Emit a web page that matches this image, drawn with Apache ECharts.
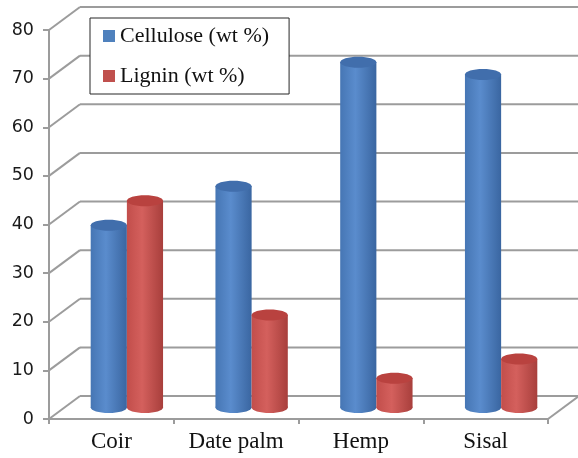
<!DOCTYPE html>
<html>
<head>
<meta charset="utf-8">
<script src="https://cdn.jsdelivr.net/npm/echarts@6/dist/echarts.min.js"></script>
<style>
  html, body { margin: 0; padding: 0; background: #fff; }
  #chart { width: 578px; height: 458px; }
</style>
</head>
<body>
<div id="chart"></div>
<script>
// Fibre composition
const categories = ['Coir', 'Date palm', 'Hemp', 'Sisal'];
const cellulose = [37.5, 45.5, 71, 68.5];
const lignin = [42.5, 19, 6, 10];
const yTicks = [0, 10, 20, 30, 40, 50, 60, 70, 80];
const seriesNames = ['Cellulose (wt %)', 'Lignin (wt %)'];

// Pseudo-3D depth of the plot box (back wall offset from the front plane)
const DEPTH_X = 31;
const DEPTH_Y = -23;
const GRID_COLOR = '#9c9c9c';

// Back wall lines, side wall diagonals and floor edge
function renderWall(params, api) {
  const v = api.value(1);
  const band = api.size([1, 0])[0];
  const p0 = api.coord([0, v]);
  const p1 = api.coord([categories.length - 1, v]);
  const xl = p0[0] - band / 2;
  const xr = p1[0] + band / 2;
  const y = p0[1];
  const style = { stroke: GRID_COLOR, lineWidth: 2 };
  const children = [
    { type: 'line', shape: { x1: xl, y1: y, x2: xl + DEPTH_X, y2: y + DEPTH_Y }, style },
    { type: 'line', shape: { x1: xl + DEPTH_X, y1: y + DEPTH_Y, x2: xr + DEPTH_X + 4, y2: y + DEPTH_Y }, style }
  ];
  if (v === 0) {
    children.push({ type: 'line', shape: { x1: xr, y1: y, x2: xr + DEPTH_X, y2: y + DEPTH_Y }, style });
  }
  return { type: 'group', children };
}

// Cylinder column placed at mid-depth; shift -1 = left of the pair, +1 = right
function cylinder(shift, pal) {
  return function (params, api) {
    const idx = api.value(0);
    const v = api.value(1);
    const band = api.size([1, 0])[0];
    const w = band * 0.29;
    const top = api.coord([idx, v]);
    const base = api.coord([idx, 0]);
    const cx = top[0] + shift * w / 2 + DEPTH_X / 2;
    const yt = top[1] + DEPTH_Y / 2;
    const yb = base[1] + DEPTH_Y / 2;
    const rx = w / 2;
    const ry = 5.5;
    const body = new echarts.graphic.LinearGradient(0, 0, 1, 0, [
      { offset: 0, color: pal.edge },
      { offset: 0.42, color: pal.light },
      { offset: 1, color: pal.dark }
    ]);
    return {
      type: 'group',
      children: [
        { type: 'ellipse', shape: { cx, cy: yb, rx, ry }, style: { fill: body } },
        { type: 'rect', shape: { x: cx - rx, y: yt, width: w, height: yb - yt }, style: { fill: body } },
        { type: 'ellipse', shape: { cx, cy: yt, rx, ry }, style: { fill: pal.top } }
      ]
    };
  };
}

const bluePal = { edge: '#4676b4', light: '#5a8ccd', dark: '#3a66a1', top: '#416eac' };
const redPal = { edge: '#c24e4b', light: '#d4605d', dark: '#a83f3c', top: '#b9423f' };

const chart = echarts.init(document.getElementById('chart'), null, { renderer: 'canvas' });
chart.setOption({
  animation: false,
  backgroundColor: '#ffffff',
  grid: { left: 49, right: 30, top: 30, bottom: 39 },
  legend: {
    data: seriesNames,
    orient: 'vertical',
    left: 90,
    top: 18,
    backgroundColor: '#ffffff',
    borderColor: '#262626',
    borderWidth: 1,
    borderRadius: 0,
    padding: [7, 20, 7, 13],
    itemWidth: 12,
    itemHeight: 12,
    itemGap: 18,
    icon: 'rect',
    selectedMode: false,
    textStyle: { fontFamily: 'Liberation Serif', fontSize: 22, color: '#111', lineHeight: 22 }
  },
  xAxis: {
    type: 'category',
    data: categories,
    axisLine: { lineStyle: { color: GRID_COLOR, width: 2 } },
    axisTick: { show: true, length: 5, lineStyle: { color: GRID_COLOR, width: 2 } },
    axisLabel: { fontFamily: 'Liberation Serif', fontSize: 23, color: '#111', margin: 11 },
    splitLine: { show: false }
  },
  yAxis: {
    type: 'value',
    min: 0,
    max: 80,
    interval: 10,
    axisLine: { show: true, lineStyle: { color: GRID_COLOR, width: 2 } },
    axisTick: { show: true, length: 6, lineStyle: { color: GRID_COLOR, width: 2 } },
    axisLabel: { fontFamily: 'DejaVu Sans', fontSize: 17.5, color: '#1a1a1a', margin: 15 },
    splitLine: { show: false }
  },
  series: [
    {
      type: 'custom',
      name: 'walls',
      silent: true,
      z: 1,
      renderItem: renderWall,
      encode: { x: 0, y: 1 },
      data: yTicks.map(v => [0, v])
    },
    {
      type: 'custom',
      name: seriesNames[0],
      z: 3,
      itemStyle: { color: '#4f81bd' },
      renderItem: cylinder(-1, bluePal),
      encode: { x: 0, y: 1 },
      data: cellulose.map((v, i) => [i, v])
    },
    {
      type: 'custom',
      name: seriesNames[1],
      z: 3,
      itemStyle: { color: '#c0504d' },
      renderItem: cylinder(1, redPal),
      encode: { x: 0, y: 1 },
      data: lignin.map((v, i) => [i, v])
    }
  ]
});
</script>
</body>
</html>
